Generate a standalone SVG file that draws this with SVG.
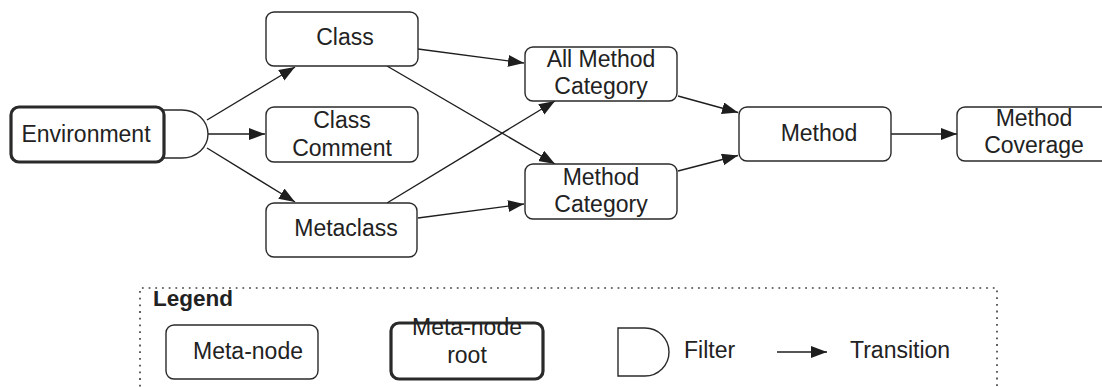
<svg xmlns="http://www.w3.org/2000/svg" width="1102" height="387" viewBox="0 0 1102 387">
<defs>
<marker id="arr" markerUnits="userSpaceOnUse" markerWidth="18" markerHeight="13" refX="16" refY="6" orient="auto">
<path d="M0,0 L16,6 L0,12 Z" fill="#1e1e1e"/>
</marker>
<style>
.n{fill:#fff;stroke:#2a2a2a;stroke-width:1.4}
.root{fill:#fff;stroke:#2a2a2a;stroke-width:3.2}
.t{font-family:"Liberation Sans",Arial,sans-serif;font-size:23px;fill:#222;text-anchor:middle}
.e{fill:none;stroke:#1e1e1e;stroke-width:1.4;marker-end:url(#arr)}
.lg{fill:none;stroke:#444;stroke-width:1.7;stroke-dasharray:1.8 4.9}
</style>
</defs>
<g id="connectors">
<line class="e" x1="207" y1="120" x2="295" y2="67"/>
<line class="e" x1="208" y1="134" x2="265" y2="134"/>
<line class="e" x1="207" y1="148" x2="295" y2="202"/>
<line class="e" x1="418" y1="49" x2="524" y2="63"/>
<line class="e" x1="387" y1="66" x2="555" y2="164"/>
<line class="e" x1="387" y1="203" x2="555" y2="101"/>
<line class="e" x1="418" y1="218" x2="524" y2="204"/>
<line class="e" x1="678" y1="96" x2="738" y2="112.5"/>
<line class="e" x1="678" y1="171" x2="738" y2="155.5"/>
<line class="e" x1="891" y1="134" x2="957" y2="134"/>
</g>
<g id="filter">
<path class="n" d="M160,110 H182 A26,24 0 0 1 182,158 H160"/>
</g>
<g id="environment">
<rect class="root" x="11" y="107" width="153" height="55" rx="8"/>
<text class="t" x="86" y="142">Environment</text>
</g>
<g id="class">
<rect class="n" x="266" y="12" width="152" height="54" rx="8"/>
<text class="t" x="345" y="45">Class</text>
</g>
<g id="class-comment">
<rect class="n" x="266" y="107" width="152" height="55" rx="8"/>
<text class="t" x="342" y="128">Class</text>
<text class="t" x="342" y="156">Comment</text>
</g>
<g id="metaclass">
<rect class="n" x="266" y="203" width="151" height="54" rx="8"/>
<text class="t" x="346" y="236">Metaclass</text>
</g>
<g id="all-method-category">
<rect class="n" x="525" y="47" width="152" height="54" rx="8"/>
<text class="t" x="601" y="67">All Method</text>
<text class="t" x="601" y="94">Category</text>
</g>
<g id="method-category">
<rect class="n" x="525" y="164" width="152" height="55" rx="8"/>
<text class="t" x="601" y="185">Method</text>
<text class="t" x="601" y="212">Category</text>
</g>
<g id="method">
<rect class="n" x="739" y="107" width="152" height="54" rx="8"/>
<text class="t" x="819" y="141">Method</text>
</g>
<g id="method-coverage">
<rect class="n" x="957" y="107" width="152" height="54" rx="8"/>
<text class="t" x="1034" y="126">Method</text>
<text class="t" x="1034" y="153">Coverage</text>
</g>
<g id="legend">
<path class="lg" d="M140,400 V288 H997 V400"/>
<text x="153" y="306" style="font-family:'Liberation Sans',Arial,sans-serif;font-size:22.5px;font-weight:bold;fill:#222">Legend</text>
<rect class="n" x="166" y="325" width="152" height="54" rx="8"/>
<text class="t" x="248" y="359">Meta-node</text>
<rect class="root" x="391" y="323" width="152" height="56" rx="8"/>
<text class="t" x="467" y="335">Meta-node</text>
<text class="t" x="467" y="363">root</text>
<path class="n" d="M618,328 H645 A24,24 0 0 1 645,376 H618 Z"/>
<text class="t" x="684" y="358" style="text-anchor:start">Filter</text>
<line class="e" x1="777" y1="352" x2="827" y2="352"/>
<text class="t" x="850" y="358" style="text-anchor:start">Transition</text>
</g>
</svg>
